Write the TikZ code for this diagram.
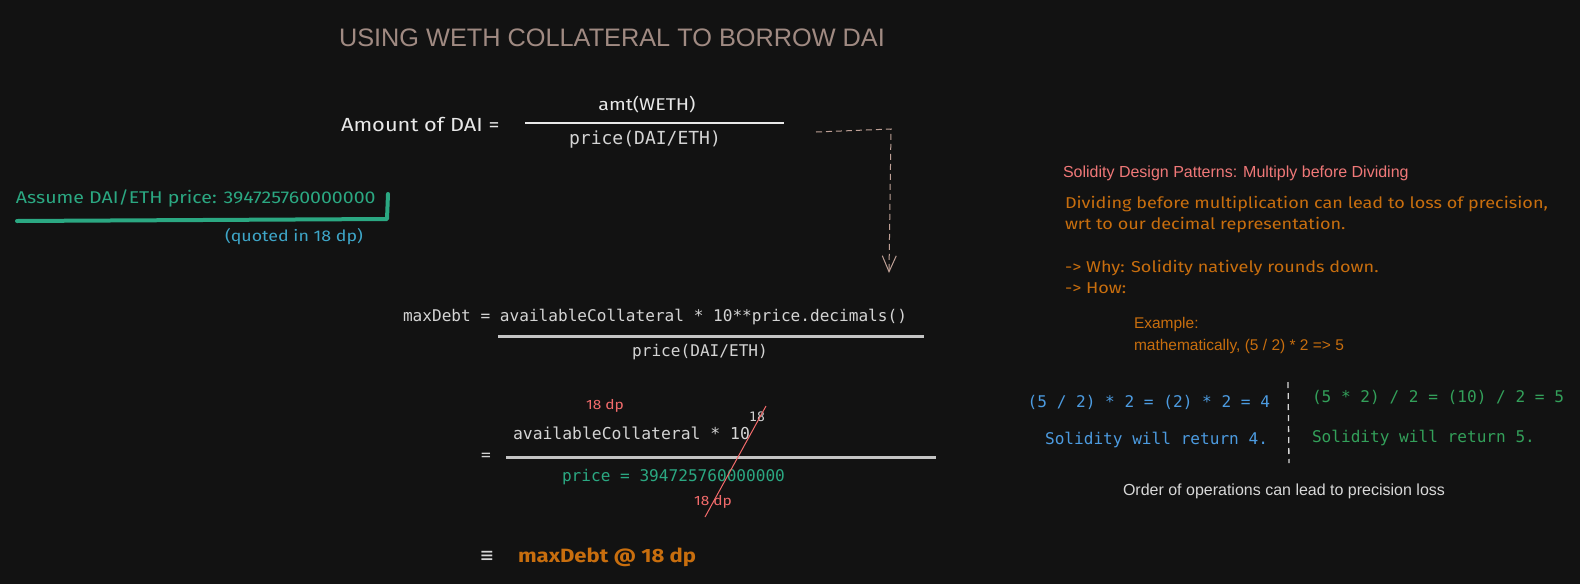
\documentclass[tikz,border=0pt]{standalone}
\usepackage{fontspec}
\setmainfont{Liberation Sans}
\newfontfamily\handf[FakeStretch=1.15]{Fira Sans}
\newfontfamily\monof{DejaVu Sans Mono}
\usetikzlibrary{arrows.meta}
\definecolor{bgc}{HTML}{121212}
\definecolor{titlec}{HTML}{A08A82}
\definecolor{codec}{HTML}{D4D4D4}
\definecolor{whitec}{HTML}{E8E8E8}
\definecolor{greenc}{HTML}{2BA882}
\definecolor{cyanc}{HTML}{3EA6C8}
\definecolor{redc}{HTML}{F26B6B}
\definecolor{orangec}{HTML}{C86E0E}
\definecolor{pinkc}{HTML}{F07878}
\definecolor{bluec}{HTML}{4C9BE0}
\definecolor{green2c}{HTML}{33A05A}
\definecolor{arrowc}{HTML}{BEA096}
\definecolor{greyc}{HTML}{D8D8D8}
\definecolor{linec}{HTML}{C4C4C4}
\tikzset{
  txt/.style={inner sep=0pt, outer sep=0pt},
  hand/.style={txt, font=\handf\fontsize{#1}{#1}\selectfont},
  mono/.style={txt, font=\monof\fontsize{#1}{#1}\selectfont},
  sans/.style={txt, font=\fontsize{#1}{#1}\selectfont},
  fracline/.style={linec, line width=3pt},
}
\begin{document}
\begin{tikzpicture}[x=1pt,y=-1pt]
\fill[bgc] (0,0) rectangle (1580,584);
\useasboundingbox (0,0) rectangle (1580,584);

% title
\node[sans=25.3, titlec, anchor=west] (title) at (339,38) {USING WETH COLLATERAL TO BORROW DAI};

% amount of DAI
\node[hand=19, whitec, anchor=west] (amount) at (341,124) {Amount of DAI =};
\coordinate (f1a) at (525,123);
\coordinate (f1b) at (784,123);
\draw[whitec, line width=1.6pt] (f1a) -- (f1b);
\node[hand=17, whitec] (weth) at (647,105) {amt(WETH)};
\node[mono=18, codec] (den1) at (645,140) {price(DAI/ETH)};

% dashed arrow
\coordinate (d0) at (816,132);
\coordinate (d1) at (891,129);
\coordinate (d2) at (889,273);
\draw[arrowc, line width=1pt, dash pattern=on 6pt off 4pt,
      -{Straight Barb[length=16pt,width=14pt,line width=1pt]}] (d0) -- (d1) -- (d2);

% assume
\node[hand=17, greenc, anchor=west] (assume) at (16,198) {Assume DAI/ETH price: 394725760000000};
\coordinate (u0) at (17,221);
\coordinate (u1) at (387,219);
\coordinate (u2) at (388,194);
\draw[greenc, line width=4pt, line cap=round, line join=round] (u0) -- (u1) -- (u2);
\node[hand=15.5, cyanc, anchor=west] (quoted) at (225,237) {(quoted in 18 dp)};

% maxDebt
\node[mono=16.1, codec, anchor=west] (maxdebt) at (403,317) {maxDebt = availableCollateral * 10**price.decimals()};
\coordinate (f2a) at (498,336);
\coordinate (f2b) at (924,336);
\draw[fracline] (f2a) -- (f2b);
\node[mono=16.1, codec] (den2) at (700,352) {price(DAI/ETH)};

% second fraction
\node[mono=16.1, codec] (eq2) at (486,457) {=};
\node[mono=16.4, codec, anchor=west] (num3) at (513,433) {availableCollateral * 10};
\node[mono=13, codec] (sup18) at (757,417) {18};
\coordinate (f3a) at (506,457);
\coordinate (f3b) at (936,457);
\draw[fracline] (f3a) -- (f3b);
\node[mono=16.1, greenc, anchor=west] (price3) at (562,477) {price = 394725760000000};
\node[hand=13.5, redc] (dpa) at (605,406) {18 dp};
\node[hand=13.5, redc] (dpb) at (713,502) {18 dp};
\coordinate (s0) at (766,406);
\coordinate (s1) at (705,517);
\draw[redc, line width=1pt] (s0) -- (s1);

% result
\node[mono=21, greyc] (equiv) at (487,557) {≡};
\node[txt, orangec, anchor=west, font=\handf\bfseries\fontsize{19.2}{19.2}\selectfont] (result) at (518,557) {maxDebt @ 18 dp};

% right side
\node[sans=16, pinkc, anchor=west] (sdp) at (1063,173) {Solidity Design Patterns: Multiply before Dividing};
\node[hand=15.7, orangec, anchor=west] (l1) at (1065,204) {Dividing before multiplication can lead to loss of precision,};
\node[hand=15.7, orangec, anchor=west] (l2) at (1065,225) {wrt to our decimal representation.};
\node[hand=15.7, orangec, anchor=west] (l3) at (1065,268) {-> Why: Solidity natively rounds down.};
\node[hand=15.7, orangec, anchor=west] (l4) at (1065,288) {-> How:};
\node[sans=15.5, orangec, anchor=west] (ex1) at (1134,324) {Example:};
\node[sans=15.5, orangec, anchor=west] (ex2) at (1134,346) {mathematically, (5 / 2) * 2 => 5};

\node[mono=16.1, bluec, anchor=east] (b1) at (1270,402) {(5 / 2) * 2 = (2) * 2 = 4};
\node[mono=16.1, bluec, anchor=east] (b2) at (1268,440) {Solidity will return 4.};
\node[mono=16.1, green2c, anchor=west] (g1) at (1312,397) {(5 * 2) / 2 = (10) / 2 = 5};
\node[mono=16.1, green2c, anchor=west] (g2) at (1312,438) {Solidity will return 5.};
\coordinate (v0) at (1288,382);
\coordinate (v1) at (1289,463);
\draw[greyc, line width=1.3pt, dash pattern=on 6pt off 5pt] (v0) -- (v1);
\node[sans=16, greyc, anchor=west] (order) at (1123,491) {Order of operations can lead to precision loss};
\end{tikzpicture}
\end{document}
